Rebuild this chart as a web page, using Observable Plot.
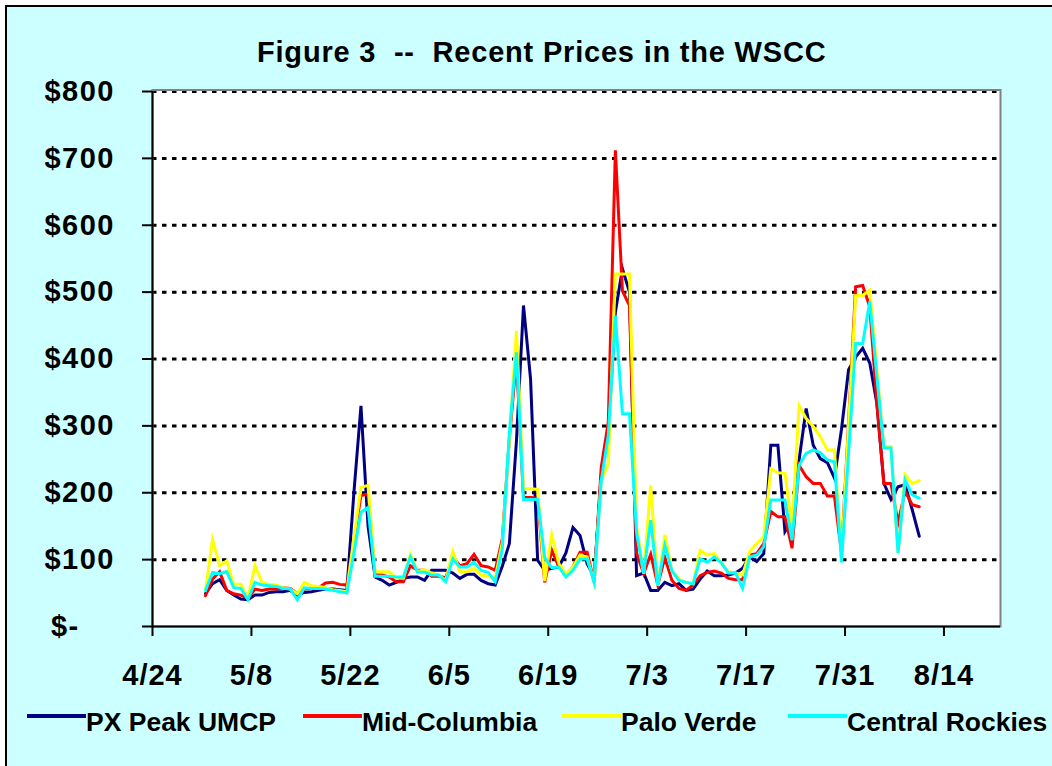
<!DOCTYPE html>
<html>
<head>
<meta charset="utf-8">
<script src="https://cdn.jsdelivr.net/npm/d3@7"></script>
<script src="https://cdn.jsdelivr.net/npm/@observablehq/plot@0.6"></script>
<style>
html, body { margin: 0; padding: 0; width: 1052px; height: 766px; overflow: hidden; background: #fff; }
#chart { position: absolute; left: 0; top: 0; width: 1052px; height: 766px; overflow: hidden;
  font-family: "Liberation Sans", Arial, sans-serif; font-weight: bold; color: #000; }
#bg { position: absolute; left: 5px; top: 5px; width: 1100px; height: 800px; border: 2px solid #000; background: #CCFFFF; }
#title { position: absolute; left: 257px; top: 38px; font-size: 29px; line-height: 29px; letter-spacing: 0.8px; white-space: pre; }
#plot { position: absolute; left: 0; top: 0; }
.leg-line { position: absolute; height: 3.5px; top: 714px; }
.leg-text { position: absolute; top: 709px; font-size: 26.5px; line-height: 26px; white-space: pre; }
</style>
</head>
<body>
<div id="chart">
  <div id="bg"></div>
  <div id="title"></div>
  <div id="plot"></div>
  <div id="legend"></div>
</div>
<script>
// ---------- data ----------
const chartTitle = "Figure 3  --  Recent Prices in the WSCC";
const seriesNames = ["PX Peak UMCP", "Mid-Columbia", "Palo Verde", "Central Rockies"];
const seriesColors = ["#000080", "#FF0000", "#FFFF00", "#00FFFF"];
const firstDate = "5/1";   // daily values starting here (year 2000)
const pxPeak = [
  49, 64, 70, 54, 47, 41, 40, 47, 47, 51, 52, 52, 54, 47, 51, 52, 54, 56, 56, 55,
  54, 200, 330, 150, 74, 69, 62, 66, 72, 74, 74, 69, 84, 84, 84, 80, 72, 78, 78, 69,
  64, 62, 90, 124, 277, 480, 370, 99, 84, 87, 89, 110, 148, 136, 94, 74, 227, 290, 470, 535,
  500, 76, 80, 54, 54, 66, 61, 64, 54, 56, 71, 83, 76, 76, 77, 80, 87, 104, 97, 109,
  271, 271, 142, 159, 249, 326, 271, 251, 245, 222, 295, 384, 403, 416, 394, 334, 214, 190, 209, 212,
  175, 135
];
const midColumbia = [
  46, 71, 82, 54, 49, 47, 42, 56, 54, 56, 56, 58, 57, 49, 56, 57, 58, 65, 66, 63,
  62, 128, 196, 198, 77, 77, 74, 67, 67, 91, 84, 84, 75, 75, 73, 104, 91, 94, 108, 91,
  89, 84, 131, 280, 400, 193, 193, 192, 66, 114, 89, 77, 89, 111, 111, 66, 238, 306, 712, 502,
  480, 110, 79, 108, 62, 103, 69, 57, 54, 62, 76, 81, 83, 80, 72, 70, 70, 107, 109, 124,
  172, 164, 164, 117, 241, 224, 214, 214, 195, 195, 110, 304, 508, 510, 478, 334, 214, 214, 155, 202,
  182, 179
];
const paloVerde = [
  54, 130, 91, 98, 63, 63, 42, 91, 66, 63, 62, 58, 56, 49, 66, 61, 60, 58, 55, 54,
  52, 133, 208, 211, 82, 82, 82, 72, 72, 108, 82, 85, 80, 77, 69, 112, 82, 82, 87, 77,
  75, 72, 126, 280, 442, 206, 206, 205, 68, 137, 94, 79, 89, 107, 104, 66, 218, 243, 527, 527,
  527, 150, 79, 211, 61, 137, 83, 71, 66, 64, 114, 107, 109, 95, 82, 80, 77, 112, 124, 134,
  236, 230, 229, 149, 330, 311, 299, 284, 264, 264, 105, 300, 495, 495, 503, 384, 269, 269, 110, 227,
  214, 218
];
const centralRockies = [
  54, 81, 79, 82, 58, 57, 40, 66, 62, 61, 60, 57, 56, 40, 58, 57, 57, 56, 54, 52,
  50, 110, 171, 178, 75, 75, 75, 74, 74, 104, 81, 81, 77, 77, 67, 101, 89, 89, 96, 84,
  81, 67, 116, 290, 410, 190, 190, 190, 103, 88, 89, 74, 84, 101, 101, 66, 218, 286, 465, 318,
  318, 140, 79, 159, 61, 121, 83, 69, 66, 64, 101, 96, 104, 95, 80, 80, 57, 104, 107, 119,
  189, 189, 189, 129, 241, 259, 264, 260, 249, 246, 96, 259, 423, 423, 486, 374, 267, 267, 110, 219,
  197, 192
];
const xTickLabels = ["4/24", "5/8", "5/22", "6/5", "6/19", "7/3", "7/17", "7/31", "8/14"];
const xDomainLabels = ["4/24", "8/22"];
const yTickValues = [0, 100, 200, 300, 400, 500, 600, 700, 800];
const yTickLabels = ["$-\u2007\u2007", "$100", "$200", "$300", "$400", "$500", "$600", "$700", "$800"];

// ---------- helpers ----------
const YEAR = 2000;
const DAY = 864e5;
function md(s) { const [m, d] = s.split("/").map(Number); return new Date(Date.UTC(YEAR, m - 1, d)); }

const allSeries = [pxPeak, midColumbia, paloVerde, centralRockies];
const start = md(firstDate).getTime();
const rows = [];
allSeries.forEach((vals, k) => {
  vals.forEach((v, i) => {
    // points sit in the middle of their day (Excel "between tick marks")
    rows.push({ date: new Date(start + i * DAY + DAY / 2), value: v, series: seriesNames[k] });
  });
});
const tickDates = xTickLabels.map(md);
const xDomain = xDomainLabels.map(md);

document.getElementById("title").textContent = chartTitle;

const plot = Plot.plot({
  width: 1052,
  height: 700,
  marginLeft: 152,
  marginRight: 52,
  marginTop: 91,
  marginBottom: 74,
  style: { background: "transparent", fontFamily: "'Liberation Sans', Arial, sans-serif", fontWeight: "bold", color: "#000", overflow: "visible" },
  x: { type: "utc", domain: xDomain },
  y: { domain: [0, 800] },
  color: { domain: seriesNames, range: seriesColors },
  marks: [
    Plot.frame({ fill: "white", stroke: null }),
    Plot.ruleY(yTickValues.filter(v => v > 0), { stroke: "#000", strokeWidth: 3, strokeDasharray: "4.5,5.5" }),
    Plot.frame({ stroke: "#808080", strokeWidth: 2, insetTop: -1.5 }),
    Plot.line(rows, { x: "date", y: "value", z: "series", stroke: "series", strokeWidth: 3, strokeLinejoin: "miter", strokeMiterlimit: 6 }),
    Plot.ruleX([xDomain[0]], { stroke: "#000", strokeWidth: 2 }),
    Plot.ruleY([0], { stroke: "#000", strokeWidth: 2 }),
    Plot.axisY({ ticks: yTickValues, tickFormat: d => yTickLabels[yTickValues.indexOf(d)], tickSize: 10, tickPadding: 27.5, fontSize: 29, strokeWidth: 2, label: null }),
    Plot.axisX({ ticks: tickDates, tickFormat: d => xTickLabels[tickDates.findIndex(t => +t === +d)], tickSize: 10, tickPadding: 28, fontSize: 29, strokeWidth: 2, label: null })
  ]
});
document.getElementById("plot").appendChild(plot);
d3.select(plot).selectAll('g[aria-label="y-axis tick label"] text').style("letter-spacing", "1.5px");
d3.select(plot).selectAll('g[aria-label="x-axis tick label"] text').style("letter-spacing", "1px");

// ---------- legend ----------
const legendLineX = [27, 303, 562, 788];
const legendLineW = 59;
const legend = document.getElementById("legend");
seriesNames.forEach((name, k) => {
  const line = document.createElement("div");
  line.className = "leg-line";
  line.style.left = legendLineX[k] + "px";
  line.style.width = legendLineW + "px";
  line.style.background = seriesColors[k];
  legend.appendChild(line);
  const t = document.createElement("div");
  t.className = "leg-text";
  t.style.left = (legendLineX[k] + legendLineW) + "px";
  t.textContent = name;
  legend.appendChild(t);
});
</script>
</body>
</html>
